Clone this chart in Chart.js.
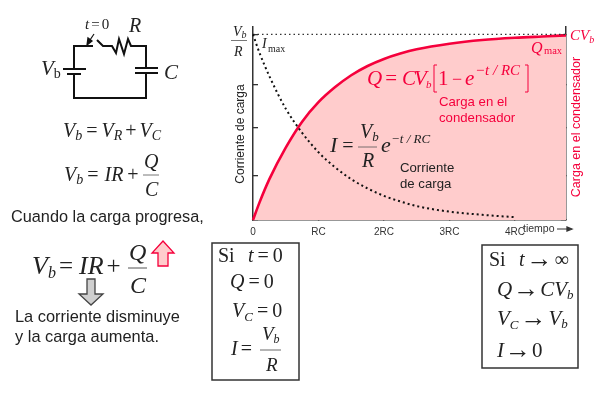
<!DOCTYPE html>
<html>
<head>
<meta charset="utf-8">
<title>Carga de un condensador</title>
<script src="https://cdn.jsdelivr.net/npm/chart.js@4"></script>
<style>
  html, body { margin: 0; padding: 0; background: #fff; }
  canvas { display: block; }
</style>
</head>
<body>
<canvas id="chart" width="603" height="396"></canvas>
<script>
// values (time in RC, both curves as a fraction of their max)
const chargeTime = [0, 0.1, 0.25, 0.5, 0.75, 1, 1.25, 1.5, 1.75, 2, 2.25, 2.5, 3, 3.5, 4, 4.5, 4.78];
const chargeValues = [0, 0.095, 0.22, 0.39, 0.53, 0.635, 0.715, 0.78, 0.83, 0.868, 0.897, 0.92, 0.95, 0.97, 0.982, 0.99, 0.995];
const currentTime = [0, 0.1, 0.25, 0.5, 0.75, 1, 1.25, 1.5, 1.75, 2, 2.25, 2.5, 3, 3.5, 4];
const currentValues = [1, 0.9, 0.775, 0.6, 0.47, 0.365, 0.285, 0.22, 0.17, 0.13, 0.1, 0.075, 0.045, 0.028, 0.015];
const limitTime = [0, 4.78];
const limitValues = [1, 1];
const xTicks = [0, 1, 2, 3, 4];
const xLabels = ['0', 'RC', '2RC', '3RC', '4RC'];
const yTicks = [0, 0.24, 0.5, 0.73, 1];

const RED = '#f5003c';
const INK = '#222';
const SERIF = '"Liberation Serif", serif';
const SANS = '"Liberation Sans", sans-serif';

function pairs(xs, ys) {
  return xs.map((x, i) => ({ x: x, y: ys[i] }));
}

function setTicks(values) {
  return scale => { scale.ticks = values.map(v => ({ value: v })); };
}

// writes a row of [text, style, size, dy, pad] runs, pad is the space kept on both sides
function write(ctx, x, y, runs, color) {
  ctx.fillStyle = color || INK;
  ctx.textBaseline = 'alphabetic';
  ctx.textAlign = 'left';
  runs.forEach(r => {
    const style = r[1] === 'i' ? 'italic ' : '';
    const pad = r[4] || 0;
    ctx.font = style + r[2] + 'px ' + (r[1] === 's' ? SANS : SERIF);
    ctx.fillText(r[0], x + pad, y + (r[3] || 0));
    x += ctx.measureText(r[0]).width + pad * 2;
  });
  return x;
}

function line(ctx, pts, width, color) {
  ctx.beginPath();
  ctx.lineWidth = width;
  ctx.strokeStyle = color || '#111';
  pts.forEach((p, i) => i ? ctx.lineTo(p[0], p[1]) : ctx.moveTo(p[0], p[1]));
  ctx.stroke();
}

function shape(ctx, pts, fill, stroke) {
  ctx.beginPath();
  pts.forEach((p, i) => i ? ctx.lineTo(p[0], p[1]) : ctx.moveTo(p[0], p[1]));
  ctx.closePath();
  ctx.fillStyle = fill;
  ctx.fill();
  ctx.lineWidth = 1.3;
  ctx.strokeStyle = stroke;
  ctx.stroke();
}

function drawCircuit(ctx) {
  line(ctx, [[93, 46], [74, 46], [74, 69]], 2);
  line(ctx, [[63, 69], [86, 69]], 2);
  line(ctx, [[67, 74], [81, 74]], 2);
  line(ctx, [[74, 74], [74, 98], [146, 98], [146, 73]], 2);
  line(ctx, [[135, 73], [158, 73]], 2);
  line(ctx, [[135, 68], [158, 68]], 2);
  line(ctx, [[146, 68], [146, 46], [131, 46], [128, 39], [124, 54], [119, 39], [116, 53], [112, 46], [103, 46], [97, 40]], 2);
  line(ctx, [[94, 34], [88, 43]], 1.2);
  shape(ctx, [[87, 45], [88, 38], [92, 41]], '#111', '#111');
  write(ctx, 85, 29, [['t', 'i', 15], ['=', 'r', 15, 0, 2], ['0', 'r', 15]]);
  write(ctx, 129, 32, [['R', 'i', 20]]);
  write(ctx, 41, 75, [['V', 'i', 21], ['b', 'r', 14, 3]]);
  write(ctx, 164, 79, [['C', 'i', 21]]);
}

function drawLeftText(ctx) {
  write(ctx, 63, 137, [['V', 'i', 20], ['b', 'i', 14, 3], ['=', 'r', 20, 0, 4], ['V', 'i', 20], ['R', 'i', 14, 3], ['+', 'r', 20, 0, 3], ['V', 'i', 20], ['C', 'i', 14, 3]]);

  write(ctx, 64, 181, [['V', 'i', 20], ['b', 'i', 14, 3], ['=', 'r', 20, 0, 4], ['IR', 'i', 20, 0, 2], ['+', 'r', 20, 0, 2]]);
  write(ctx, 144, 168, [['Q', 'i', 20]]);
  line(ctx, [[143, 175], [159, 175]], 0.8, '#555');
  write(ctx, 145, 196, [['C', 'i', 20]]);

  write(ctx, 11, 222, [['Cuando la carga progresa,', 's', 16.3]]);

  write(ctx, 32, 274, [['V', 'i', 26], ['b', 'i', 16, 4], ['=', 'r', 25, 0, 3], ['IR', 'i', 26, 0, 3], ['+', 'r', 25]]);
  write(ctx, 129, 260, [['Q', 'i', 24]]);
  line(ctx, [[128, 268], [147, 268]], 1, '#555');
  write(ctx, 130, 293, [['C', 'i', 24]]);
  shape(ctx, [[163, 241], [174, 253], [168, 253], [168, 266], [158, 266], [158, 253], [152, 253]], '#ffcccc', RED);
  shape(ctx, [[87, 279], [95, 279], [95, 294], [103, 294], [91, 305], [79, 294], [87, 294]], '#cfcfcf', '#444');

  write(ctx, 15, 322, [['La corriente disminuye', 's', 16.4]]);
  write(ctx, 15, 342, [['y la carga aumenta.', 's', 16.4]]);
}

function drawBoxes(ctx) {
  ctx.lineWidth = 1.5;
  ctx.strokeStyle = '#333';
  ctx.strokeRect(212, 243, 87, 137);
  ctx.strokeRect(482, 245, 96, 123);

  write(ctx, 218, 262, [['Si', 'r', 20]]);
  write(ctx, 248, 262, [['t', 'i', 20], ['=', 'r', 20, 0, 4], ['0', 'r', 20]]);
  write(ctx, 230, 288, [['Q', 'i', 20], ['=', 'r', 20, 0, 4], ['0', 'r', 20]]);
  write(ctx, 232, 317, [['V', 'i', 20], ['C', 'i', 13, 4], ['=', 'r', 20, 0, 4], ['0', 'r', 20]]);
  write(ctx, 231, 355, [['I', 'i', 20], ['=', 'r', 20, 0, 3]]);
  write(ctx, 262, 340, [['V', 'i', 19], ['b', 'i', 12, 3]]);
  line(ctx, [[260, 350], [281, 350]], 0.8, '#444');
  write(ctx, 266, 371, [['R', 'i', 19]]);

  write(ctx, 489, 266, [['Si', 'r', 20]]);
  write(ctx, 519, 266, [['t', 'i', 20], ['→', 'r', 26, 1, 2], ['∞', 'r', 20]]);
  write(ctx, 497, 296, [['Q', 'i', 21], ['→', 'r', 26, 1, 1], ['CV', 'i', 21], ['b', 'i', 13, 3]]);
  write(ctx, 497, 325, [['V', 'i', 21], ['C', 'i', 13, 4], ['→', 'r', 26, 1, 2], ['V', 'i', 21], ['b', 'i', 13, 3]]);
  write(ctx, 497, 357, [['I', 'i', 21], ['→', 'r', 26, 1, 1], ['0', 'r', 21]]);
}

function drawChartText(ctx) {
  write(ctx, 233, 36, [['V', 'i', 14], ['b', 'i', 10, 2]]);
  line(ctx, [[231, 40.5], [247, 40.5]], 0.8, '#555');
  write(ctx, 234, 56, [['R', 'i', 14]]);
  write(ctx, 262, 48, [['I', 'i', 14]]);
  write(ctx, 268, 52, [['max', 'r', 10]]);

  write(ctx, 570, 40, [['CV', 'i', 15], ['b', 'i', 10, 3]], RED);
  write(ctx, 531, 53, [['Q', 'i', 16]], RED);
  write(ctx, 544, 54, [['max', 'r', 10.5]], RED);

  write(ctx, 367, 85, [['Q', 'i', 21], ['=', 'r', 21, 0, 3]], RED);
  write(ctx, 402, 85, [['C', 'i', 21]], RED);
  write(ctx, 414, 85, [['V', 'i', 21]], RED);
  write(ctx, 426, 88, [['b', 'i', 11]], RED);
  line(ctx, [[437, 65], [434, 65], [434, 92], [437, 92]], 1, RED);
  write(ctx, 438, 85, [['1', 'r', 21]], RED);
  write(ctx, 452, 85, [['−', 'r', 18]], RED);
  write(ctx, 465, 85, [['e', 'i', 21]], RED);
  write(ctx, 475, 75, [['−t / RC', 'i', 15]], RED);
  line(ctx, [[525, 65], [528, 65], [528, 92], [525, 92]], 1, RED);
  write(ctx, 439, 106, [['Carga en el', 's', 13.2]], RED);
  write(ctx, 439, 122, [['condensador', 's', 13.2]], RED);

  write(ctx, 330, 152, [['I', 'i', 22], ['=', 'r', 20, 0, 5]]);
  write(ctx, 360, 138, [['V', 'i', 20], ['b', 'i', 13, 3]]);
  line(ctx, [[358, 147], [377, 147]], 0.8, '#555');
  write(ctx, 362, 167, [['R', 'i', 20]]);
  write(ctx, 381, 152, [['e', 'i', 22]]);
  write(ctx, 391, 143, [['−t / RC', 'i', 13]]);
  write(ctx, 400, 172, [['Corriente', 's', 13.2]]);
  write(ctx, 400, 188, [['de carga', 's', 13.2]]);

  write(ctx, 523, 232, [['tiempo', 's', 10.5]], '#333');
  line(ctx, [[557, 229], [568, 229]], 1, '#333');
  shape(ctx, [[572, 229], [567, 227], [567, 231]], '#333', '#333');

  // rotated axis names sit away from the middle of the axis
  ctx.save();
  ctx.translate(244, 134);
  ctx.rotate(-Math.PI / 2);
  ctx.textAlign = 'center';
  ctx.font = '12px ' + SANS;
  ctx.fillStyle = INK;
  ctx.fillText('Corriente de carga', 0, 0);
  ctx.restore();

  ctx.save();
  ctx.translate(580, 127);
  ctx.rotate(-Math.PI / 2);
  ctx.textAlign = 'center';
  ctx.font = '12.5px ' + SANS;
  ctx.fillStyle = RED;
  ctx.fillText('Carga en el condensador', 0, 0);
  ctx.restore();
}

const annotations = {
  id: 'annotations',
  afterDraw(chart) {
    const ctx = chart.ctx;
    ctx.save();
    drawCircuit(ctx);
    drawLeftText(ctx);
    drawBoxes(ctx);
    drawChartText(ctx);
    ctx.restore();
  }
};

const axisGrid = { drawOnChartArea: false, tickLength: -5, color: '#333', lineWidth: 1.3 };
const axisBorder = { color: '#333', width: 1.5 };

new Chart(document.getElementById('chart'), {
  type: 'scatter',
  data: {
    datasets: [
      {
        label: 'Corriente de carga',
        data: pairs(currentTime, currentValues),
        yAxisID: 'yI',
        showLine: true,
        cubicInterpolationMode: 'monotone',
        borderColor: '#111',
        borderWidth: 2,
        borderDash: [2, 3],
        pointRadius: 0,
        clip: false,
        order: 1
      },
      {
        label: 'Carga en el condensador',
        data: pairs(chargeTime, chargeValues),
        yAxisID: 'yQ',
        showLine: true,
        cubicInterpolationMode: 'monotone',
        borderColor: RED,
        borderWidth: 2.6,
        backgroundColor: '#ffcccc',
        fill: 'origin',
        pointRadius: 0,
        clip: false,
        order: 3
      },
      {
        label: 'Vb/R',
        data: pairs(limitTime, limitValues),
        yAxisID: 'yI',
        showLine: true,
        borderColor: '#333',
        borderWidth: 1.2,
        borderDash: [1.5, 3],
        pointRadius: 0,
        order: 2
      }
    ]
  },
  options: {
    responsive: false,
    animation: false,
    layout: { padding: { top: 27, left: 0, right: 0, bottom: 0 } },
    plugins: { legend: { display: false }, tooltip: { enabled: false } },
    scales: {
      x: {
        type: 'linear',
        min: 0,
        max: 4.78,
        grid: axisGrid,
        border: axisBorder,
        afterBuildTicks: setTicks(xTicks),
        afterFit(scale) { scale.height = 176; },
        ticks: {
          autoSkip: false,
          maxRotation: 0,
          padding: 11,
          color: '#333',
          font: { family: SANS, size: 10 },
          callback: (v, i) => xLabels[i]
        }
      },
      yI: {
        position: 'left',
        min: 0,
        max: 1.04,
        grid: axisGrid,
        border: axisBorder,
        afterBuildTicks: setTicks(yTicks),
        afterFit(scale) { scale.width = 253; },
        ticks: { display: false }
      },
      yQ: {
        position: 'right',
        min: 0,
        max: 1.04,
        grid: axisGrid,
        border: axisBorder,
        afterBuildTicks: setTicks(yTicks),
        afterFit(scale) { scale.width = 37; },
        ticks: { display: false }
      }
    }
  },
  plugins: [annotations]
});
</script>
</body>
</html>
